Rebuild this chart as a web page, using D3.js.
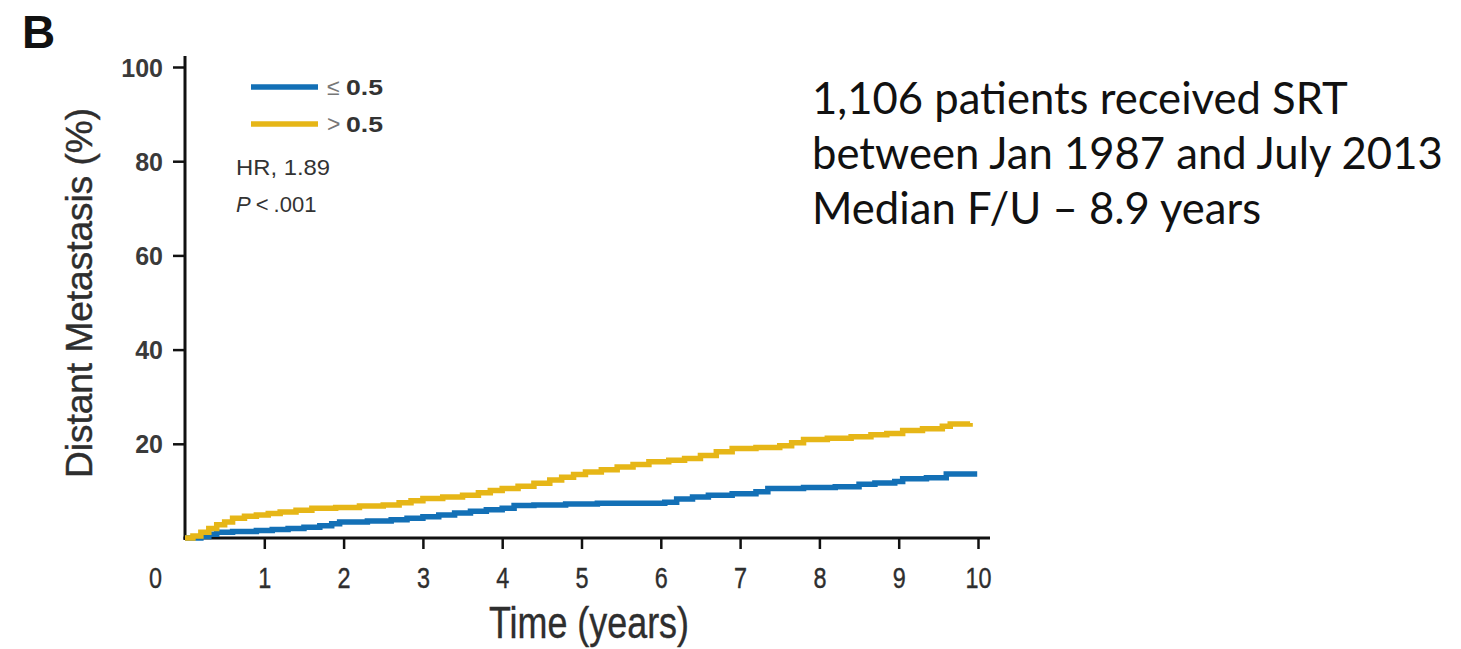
<!DOCTYPE html>
<html>
<head>
<meta charset="utf-8">
<script src="https://cdn.jsdelivr.net/npm/d3@7"></script>
<style>
  html, body { margin: 0; padding: 0; background: #fff; }
  svg { display: block; }
</style>
</head>
<body>
<svg id="chart" width="1461" height="649"></svg>
<script>
// ---- data ----
const xTicks = [0, 1, 2, 3, 4, 5, 6, 7, 8, 9, 10];
const yTicks = [20, 40, 60, 80, 100];
const seriesNames = ["\u2264", ">"];
const seriesThreshold = ["0.5", "0.5"];
// Kaplan-Meier style cumulative incidence, [years, percent]
const lowTimes  = [0, 0.2, 0.3, 0.4, 0.6, 0.9, 1.1, 1.3, 1.5, 1.7, 1.85, 1.95, 2.3, 2.6, 2.8, 3.0, 3.2, 3.4, 3.6, 3.8, 4.0, 4.15, 4.4, 4.8, 5.2, 6.05, 6.2, 6.4, 6.6, 6.9, 7.2, 7.35, 7.8, 8.2, 8.5, 8.7, 8.95, 9.05, 9.35, 9.6, 9.99];
const lowValues = [0, 0.3, 0.8, 1.2, 1.4, 1.6, 1.8, 2.0, 2.3, 2.6, 3.0, 3.4, 3.6, 3.9, 4.2, 4.5, 4.9, 5.3, 5.7, 6.0, 6.3, 6.9, 7.0, 7.2, 7.4, 7.6, 8.3, 8.7, 9.1, 9.4, 9.8, 10.5, 10.7, 10.9, 11.4, 11.7, 12.0, 12.6, 12.8, 13.6, 13.6];
const highTimes  = [0, 0.1, 0.2, 0.3, 0.4, 0.5, 0.6, 0.75, 0.9, 1.05, 1.2, 1.4, 1.6, 1.9, 2.2, 2.5, 2.7, 2.85, 3.0, 3.25, 3.5, 3.7, 3.85, 4.0, 4.2, 4.4, 4.6, 4.75, 4.9, 5.05, 5.25, 5.45, 5.65, 5.85, 6.1, 6.3, 6.5, 6.7, 6.9, 7.2, 7.5, 7.65, 7.8, 8.1, 8.4, 8.65, 8.85, 9.05, 9.3, 9.55, 9.65, 9.9];
const highValues = [0, 0.4, 1.2, 2.0, 2.8, 3.4, 4.2, 4.6, 4.9, 5.2, 5.5, 5.9, 6.3, 6.5, 6.8, 7.0, 7.5, 7.9, 8.4, 8.7, 9.1, 9.6, 10.1, 10.5, 11.0, 11.6, 12.3, 12.9, 13.5, 14.0, 14.5, 15.1, 15.6, 16.2, 16.5, 16.9, 17.5, 18.3, 19.0, 19.2, 19.6, 20.2, 20.9, 21.2, 21.5, 21.9, 22.2, 22.8, 23.2, 23.7, 24.2, 24.4];
const statLines = ["HR, 1.89"];
const infoLines = ["1,106 patients received SRT", "between Jan 1987 and July 2013", "Median F/U \u2013 8.9 years"];

// ---- layout ----
const colors = ["#1370b6", "#e6b617"];
const svg = d3.select("#chart");
const x = d3.scaleLinear().domain([0, 10]).range([185, 978]);
const y = d3.scaleLinear().domain([0, 100]).range([538, 67]);

const axisFont = "'Liberation Sans', Arial, sans-serif";

// Panel letter
svg.append("text").attr("x", 22).attr("y", 48)
  .attr("font-family", axisFont).attr("font-weight", "bold").attr("font-size", 46)
  .attr("fill", "#111").text("B");

// Y axis
const yAxis = d3.axisLeft(y).tickValues(yTicks).tickSize(12).tickSizeOuter(0).tickPadding(10);
const gy = svg.append("g").attr("transform", `translate(${x(0)},0)`).call(yAxis);
gy.select(".domain").remove();
gy.selectAll(".tick line").attr("stroke", "#111").attr("stroke-width", 2.5);
gy.selectAll(".tick text").attr("font-family", axisFont).attr("font-size", 25)
  .attr("font-weight", "bold").attr("fill", "#3a3a3a").attr("dy", "0.36em");

// X axis
const xAxis = d3.axisBottom(x).tickValues(xTicks).tickSize(11).tickSizeOuter(0).tickPadding(18);
const gx = svg.append("g").attr("transform", `translate(0,${y(0)})`).call(xAxis);
gx.select(".domain").remove();
gx.selectAll(".tick line").attr("stroke", "#111").attr("stroke-width", 2.5)
  .filter(d => d === 0).remove();
gx.selectAll(".tick text").attr("font-family", axisFont).attr("font-size", 30)
  .attr("fill", "#2e2e2e").attr("stroke", "#2e2e2e").attr("stroke-width", 0.4)
  .attr("transform", d => d === 0 ? "translate(-30,0) scale(0.78,1)" : "scale(0.78,1)");

// axis lines
svg.append("line").attr("x1", x(0)).attr("x2", x(0)).attr("y1", y(0) + 2).attr("y2", y(100) - 11)
  .attr("stroke", "#111").attr("stroke-width", 3);
svg.append("line").attr("x1", x(0) - 1.5).attr("x2", x(10) + 12).attr("y1", y(0)).attr("y2", y(0))
  .attr("stroke", "#111").attr("stroke-width", 3);

// axis titles
svg.append("text").attr("x", 489).attr("y", 638)
  .attr("font-family", axisFont).attr("font-size", 44).attr("fill", "#2e2e2e")
  .attr("stroke", "#2e2e2e").attr("stroke-width", 0.4)
  .attr("textLength", 200).attr("lengthAdjust", "spacingAndGlyphs")
  .text("Time (years)");
svg.append("text").attr("transform", `translate(92,478) rotate(-90)`)
  .attr("font-family", axisFont).attr("font-size", 36).attr("fill", "#2e2e2e")
  .attr("stroke", "#2e2e2e").attr("stroke-width", 0.4)
  .attr("textLength", 370).attr("lengthAdjust", "spacingAndGlyphs")
  .text("Distant Metastasis (%)");

// curves
const line = d3.line().x(d => x(d[0])).y(d => y(d[1])).curve(d3.curveStepAfter);
const seriesData = [
  d3.zip(lowTimes, lowValues),
  d3.zip(highTimes, highValues)
];
seriesData.forEach((s, i) => {
  svg.append("path").datum(s).attr("d", line)
    .attr("fill", "none").attr("stroke", colors[i]).attr("stroke-width", 5.5);
});

// legend
const legY = [87, 124];
seriesNames.forEach((n, i) => {
  svg.append("line").attr("x1", 251).attr("x2", 318).attr("y1", legY[i]).attr("y2", legY[i])
    .attr("stroke", colors[i]).attr("stroke-width", 5.5);
  svg.append("text").attr("x", 327).attr("y", legY[i] + 8)
    .attr("font-family", axisFont).attr("font-size", 23).attr("fill", "#777").text(n);
  svg.append("text").attr("x", 346).attr("y", legY[i] + 8)
    .attr("font-family", axisFont).attr("font-size", 22).attr("font-weight", "bold")
    .attr("fill", "#333").attr("textLength", 37).attr("lengthAdjust", "spacingAndGlyphs")
    .text(seriesThreshold[i]);
});

// stats
svg.append("text").attr("x", 236).attr("y", 175)
  .attr("font-family", axisFont).attr("font-size", 22).attr("fill", "#333")
  .attr("textLength", 94).attr("lengthAdjust", "spacingAndGlyphs").text(statLines[0]);
const pt = svg.append("text").attr("x", 236).attr("y", 212)
  .attr("font-family", axisFont).attr("font-size", 22).attr("fill", "#333");
pt.append("tspan").attr("font-style", "italic").text("P");
pt.append("tspan").attr("dx", 5).text("<");
pt.append("tspan").attr("dx", 5).text(".001");

// info text
const infoBase = [114, 169, 224];
const info = svg.append("g");
const texts = infoLines.map((l, i) => info.append("text").attr("x", 812).attr("y", infoBase[i])
  .attr("font-family", "Lato, 'Open Sans', sans-serif").attr("font-size", 40).attr("fill", "#111").text(l));
const w = texts[1].node().getComputedTextLength();
const fs = 40 * 631 / w;
texts.forEach(t => t.attr("font-size", fs));
</script>
</body>
</html>
